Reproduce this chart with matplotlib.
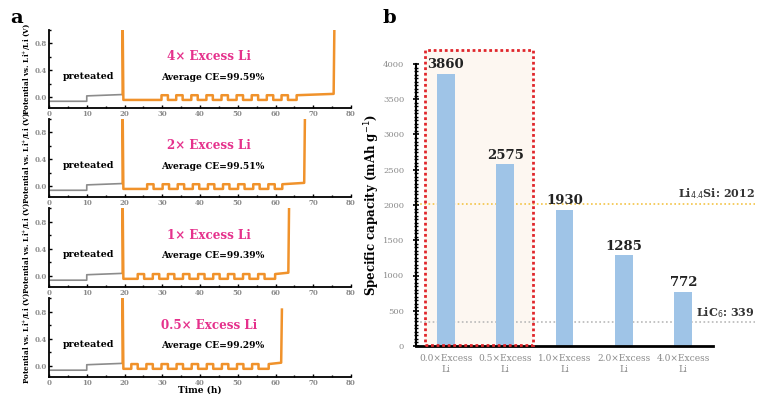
import matplotlib
matplotlib.use("Agg")
import matplotlib.pyplot as plt
from matplotlib.patches import Rectangle
from matplotlib.ticker import MultipleLocator

# ── panel a: voltage profiles ────────────────────────────────────────────────
excess_labels = ["4× Excess Li", "2× Excess Li", "1× Excess Li", "0.5× Excess Li"]
avg_ce        = ["99.59", "99.51", "99.39", "99.29"]
pulse_starts  = [
    [29.8, 33.7, 37.7, 41.7, 45.7, 49.7, 53.7, 57.7, 61.6],
    [26.0, 30.1, 34.1, 38.1, 42.1, 46.1, 50.1, 54.1, 58.1],
    [23.5, 27.5, 31.5, 35.5, 39.5, 43.5, 47.4, 51.4, 55.4],
    [21.8, 25.8, 29.8, 33.8, 37.8, 41.8, 45.8, 49.8, 53.8],
]
final_rise    = [65.6, 61.8, 59.9, 58.2]
spike_time    = [75.6, 67.8, 63.6, 61.7]
spike_top     = [1.05, 1.05, 1.05, 0.83]
pre_t         = [0, 10, 10, 19.4]
pre_v         = [-0.06, -0.06, 0.02, 0.04]
low_v, high_v = -0.04, 0.03
pulse_width   = 1.7

# ── panel b: capacities ──────────────────────────────────────────────────────
cap_labels = ["0.0×Excess\nLi", "0.5×Excess\nLi", "1.0×Excess\nLi", "2.0×Excess\nLi", "4.0×Excess\nLi"]
capacity   = [3860, 2575, 1930, 1285, 772]
li44si     = 2012
lic6       = 339

SERIF = "DejaVu Serif"
ORANGE = "#f0922b"
GRAY_LINE = "#8c8c8c"
PINK = "#e5318c"
TICK_GRAY = "#8a8a8a"

fig = plt.figure(figsize=(7.62, 3.94), dpi=100)

tops = [30, 119, 208, 298]
bots = [108, 197, 287, 377]
for i in range(4):
    y0 = 1 - bots[i] / 394
    h = (bots[i] - tops[i]) / 394
    ax = fig.add_axes([49 / 762, y0, 302 / 762, h])

    ax.plot(pre_t, pre_v, color=GRAY_LINE, lw=1.2)

    t = [19.5, 19.5, 19.7]
    v = [0.05, 1.2, low_v]
    for s in pulse_starts[i]:
        t += [s, s, s + pulse_width, s + pulse_width]
        v += [low_v, high_v, high_v, low_v]
    t += [final_rise[i], final_rise[i], spike_time[i] - 0.2, spike_time[i]]
    v += [low_v, high_v, high_v + 0.02, spike_top[i]]
    ax.plot(t, v, color=ORANGE, lw=1.8, solid_joinstyle="round")

    ax.set_xlim(0, 80)
    ax.set_ylim(-0.16, 1.0)
    ax.set_xticks(range(0, 81, 10))
    ax.xaxis.set_minor_locator(MultipleLocator(5))
    ax.set_yticks([0.0, 0.4, 0.8])
    ax.yaxis.set_minor_locator(MultipleLocator(0.2))
    ax.set_yticklabels(["0.0", "0.4", "0.8"])
    for sp in ["top", "right"]:
        ax.spines[sp].set_visible(False)
    for sp in ["left", "bottom"]:
        ax.spines[sp].set_linewidth(1.3)
    ax.tick_params(which="both", direction="in", labelsize=5, labelcolor=TICK_GRAY, pad=1.5)
    ax.tick_params(which="major", length=2.5, width=1)
    ax.tick_params(which="minor", length=1.5, width=1)
    for lab in ax.get_xticklabels() + ax.get_yticklabels():
        lab.set_family(SERIF)
        lab.set_fontweight("bold")

    ax.set_ylabel("Potential vs. Li$^{+}$/Li (V)", fontsize=5.2, family=SERIF,
                  fontweight="bold", labelpad=2)
    ax.text(42.5, 0.6, excess_labels[i], color=PINK, fontsize=8.6, family=SERIF,
            fontweight="bold", ha="center", va="center")
    ax.text(43.3, 0.3, f"Average CE={avg_ce[i]}%", fontsize=6.6, family=SERIF,
            fontweight="bold", ha="center", va="center")
    ax.text(10.5, 0.31, "preteated", fontsize=6.8, family=SERIF,
            fontweight="bold", ha="center", va="center")
    if i == 3:
        ax.set_xlabel("Time (h)", fontsize=6.5, family=SERIF, fontweight="bold", labelpad=-1)

fig.text(10 / 762, 1 - 18 / 394, "a", fontsize=14, family=SERIF, fontweight="bold",
         ha="left", va="center")
fig.text(383 / 762, 1 - 18 / 394, "b", fontsize=14, family=SERIF, fontweight="bold",
         ha="left", va="center")

# ── panel b ──────────────────────────────────────────────────────────────────
bx = fig.add_axes([416 / 762, 1 - 346 / 394, 297 / 762, 282 / 394])
xs = list(range(len(capacity)))

bx.add_patch(Rectangle((-0.35, 0), 1.82, 4200, facecolor="#fdf7f1", edgecolor="none",
                       zorder=0, clip_on=False))
bx.bar(xs, capacity, width=0.3, color="#9fc4e7", zorder=2)
bx.add_patch(Rectangle((-0.35, 20), 1.82, 4180, facecolor="none", edgecolor="#e0262b",
                       lw=2, ls=(0, (1, 1)), zorder=4, clip_on=False))

for x, c in zip(xs, capacity):
    bx.text(x, c + 40, str(c), ha="center", va="bottom", fontsize=9.5, family=SERIF,
            fontweight="bold", color="#222222", zorder=5)

bx.plot([-0.5, 5.2], [li44si, li44si], color="#f3c446", lw=1.2, ls=(0, (1, 1.5)),
        clip_on=False, zorder=1)
bx.plot([-0.5, 5.2], [lic6, lic6], color="#b9b9b9", lw=1.2, ls=(0, (1, 1.5)),
        clip_on=False, zorder=1)
bx.text(5.2, li44si + 50, f"Li$_{{4.4}}$Si: {li44si}", ha="right", va="bottom", fontsize=8,
        family=SERIF, fontweight="bold", color="#333333")
bx.text(5.2, 470, f"LiC$_6$: {lic6}", ha="right", va="center", fontsize=8,
        family=SERIF, fontweight="bold", color="#333333")

bx.set_xlim(-0.5, 4.5)
bx.set_ylim(0, 4000)
bx.set_xticks(xs)
bx.set_xticklabels(cap_labels)
bx.set_yticks(range(0, 4001, 500))
bx.yaxis.set_minor_locator(MultipleLocator(50))
for sp in ["top", "right"]:
    bx.spines[sp].set_visible(False)
bx.spines["left"].set_linewidth(1.5)
bx.spines["bottom"].set_linewidth(2)
bx.tick_params(axis="x", length=0, labelsize=6.5, labelcolor=TICK_GRAY, pad=6)
bx.tick_params(axis="y", which="major", direction="inout", length=5, width=1.2,
               labelsize=6, labelcolor=TICK_GRAY, pad=6)
bx.tick_params(axis="y", which="minor", direction="inout", length=2.5, width=1)
for lab in bx.get_xticklabels() + bx.get_yticklabels():
    lab.set_family(SERIF)
bx.set_ylabel("Specific capacity (mAh g$^{-1}$)", fontsize=8.5, family=SERIF,
              fontweight="bold", labelpad=1)

fig.savefig("out.png", dpi=100)
